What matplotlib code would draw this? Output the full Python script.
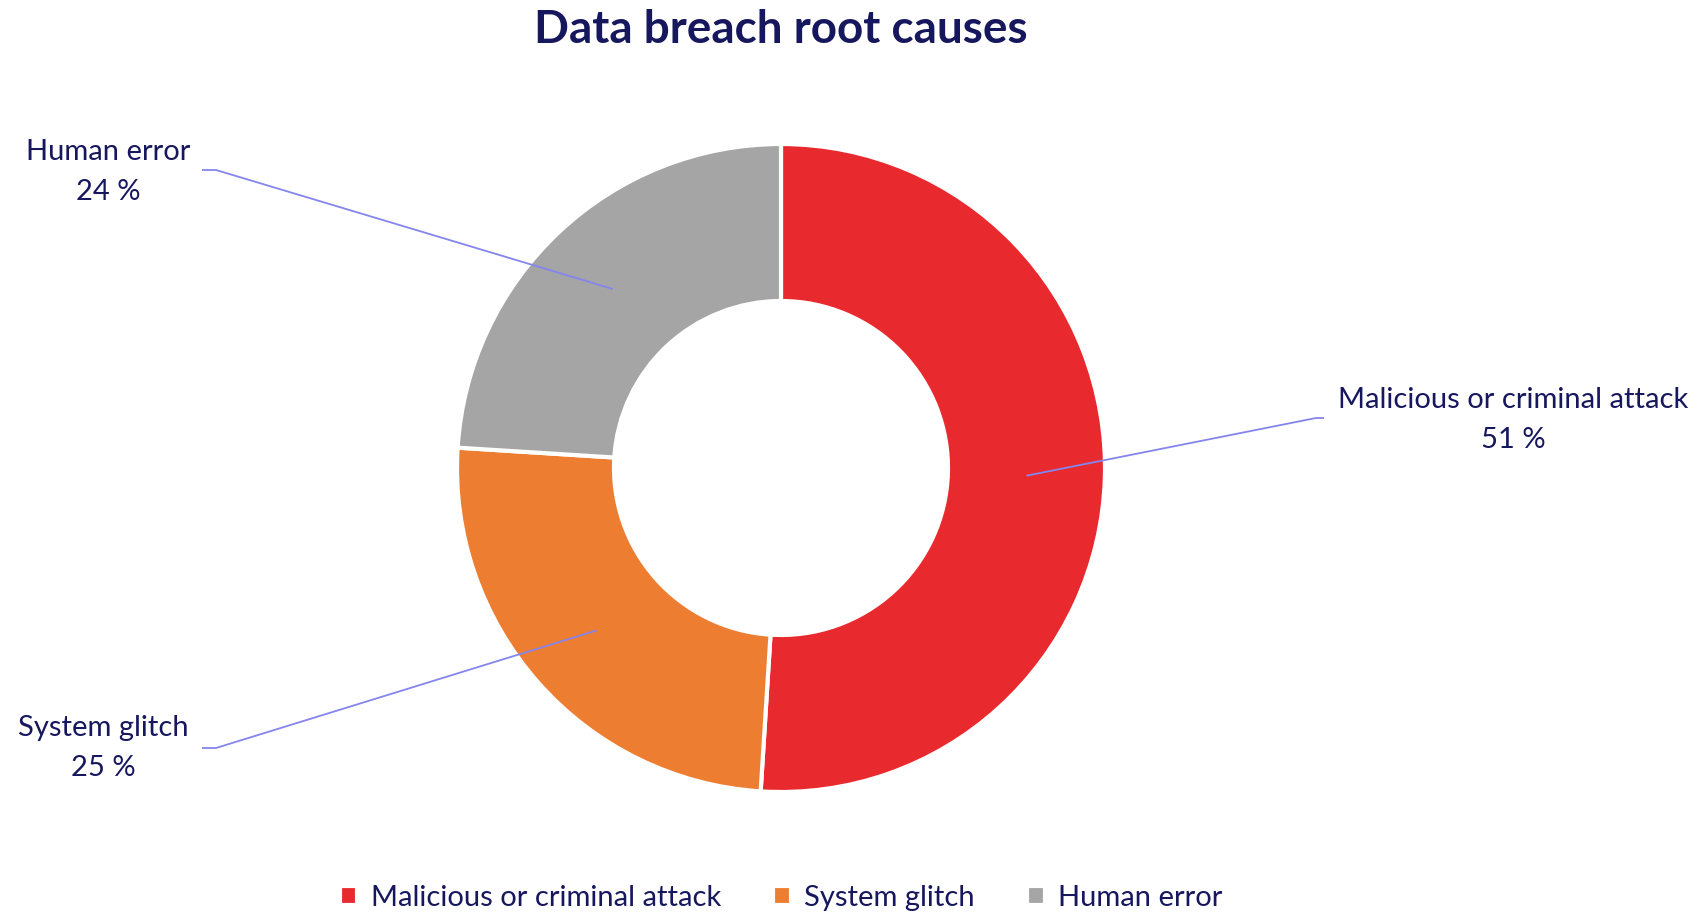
import numpy as np
import matplotlib.pyplot as plt

causes = ['Malicious or criminal attack', 'System glitch', 'Human error']
shares = [51, 25, 24]
colors = ['#E8292E', '#ED7D31', '#A5A5A5']

W, H = 1699, 916
fig = plt.figure(figsize=(W / 100, H / 100), dpi=100)
ax = fig.add_axes([0, 0, 1, 1])

plt.rcParams['font.family'] = ['Lato', 'DejaVu Sans']
navy = '#17175E'

cx, cy = 781, H - 468
r_out, r_in = 324, 167
wedges, _ = ax.pie(shares, colors=colors, startangle=90, counterclock=False,
                   center=(cx, cy), radius=r_out, frame=True,
                   wedgeprops=dict(width=r_out - r_in, edgecolor='white', linewidth=3))
ax.set_xlim(0, W)
ax.set_ylim(0, H)
ax.set_aspect('equal')
ax.axis('off')

# label positions (pixels from top-left): elbow, end of leader, text center
label_pos = {
    'Malicious or criminal attack': ((1316, 418), (1324, 418), (1513, 400)),
    'System glitch': ((216, 748), (202, 748), (103, 728)),
    'Human error': ((216, 170), (202, 170), (108, 152)),
}
r_mid = (r_out + r_in) / 2
for w, name, val in zip(wedges, causes, shares):
    ang = np.deg2rad((w.theta1 + w.theta2) / 2)
    px = cx + r_mid * np.cos(ang)
    py = cy + r_mid * np.sin(ang)
    elbow, end, txt = label_pos[name]
    ax.plot([px, elbow[0], end[0]], [py, H - elbow[1], H - end[1]],
            color='#8585EE', lw=1.3, solid_capstyle='butt')
    ax.text(txt[0], H - txt[1], name, ha='center', va='center', fontsize=21, color=navy)
    ax.text(txt[0], H - txt[1] - 40, f'{val} %', ha='center', va='center', fontsize=21, color=navy)

ax.text(781, H - 30, 'Data breach root causes', ha='center', va='center',
        fontsize=33, fontweight='bold', color=navy)

leg = ax.legend(wedges, causes, loc='center', bbox_to_anchor=(781 / W, 1 - 898 / H),
                ncol=3, frameon=False, fontsize=21, handlelength=0.6, handleheight=0.6,
                handletextpad=0.45, columnspacing=1.8, labelcolor=navy)

fig.savefig('out.png', dpi=100)
